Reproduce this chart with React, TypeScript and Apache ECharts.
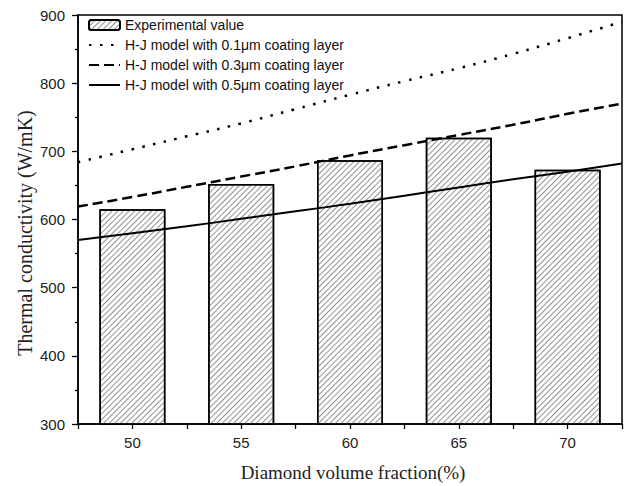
import React, { useEffect, useRef } from "react";
import * as echarts from "echarts";

const barX = [50, 55, 60, 65, 70];
const barValues = [615, 652, 687, 720, 673];

const modelX = [47.5, 50, 52.5, 55, 57.5, 60, 62.5, 65, 67.5, 70, 72.5];
const model01 = [684, 703, 722, 741, 762, 783, 803, 822, 843, 866, 890];
const model03 = [619, 633, 648, 663, 678, 694, 709, 724, 739, 755, 770];
const model05 = [570, 580, 590, 601, 612, 623, 635, 647, 659, 670, 682];

const seriesNames = [
  "Experimental value",
  "H-J model with 0.1μm coating layer",
  "H-J model with 0.3μm coating layer",
  "H-J model with 0.5μm coating layer",
];

const xTitle = "Diamond volume fraction(%)";
const yTitle = "Thermal conductivity (W/mK)";

const SANS = "Liberation Sans, Arial, sans-serif";
const SERIF = "Liberation Serif, Times New Roman, serif";

export default function App() {
  const ref = useRef<HTMLDivElement>(null);
  useEffect(() => {
    if (!ref.current) return;
    const chart = echarts.init(ref.current, null, { renderer: "svg" });
    const pair = (xs: number[], ys: number[]) => xs.map((x, i) => [x, ys[i]]);
    chart.setOption({
      animation: false,
      backgroundColor: "#ffffff",
      grid: {
        left: 78,
        top: 15,
        right: -3,
        bottom: 62,
        show: true,
        borderColor: "#000",
        borderWidth: 1.5,
        backgroundColor: "transparent",
      },
      legend: {
        orient: "vertical",
        left: 88,
        top: 18,
        padding: 0,
        itemWidth: 31,
        itemHeight: 10,
        itemGap: 6,
        textStyle: { fontFamily: SANS, fontSize: 14, color: "#111", lineHeight: 14 },
        data: [
          { name: seriesNames[0] },
          { name: seriesNames[1], itemStyle: { opacity: 0 } },
          { name: seriesNames[2], itemStyle: { opacity: 0 } },
          { name: seriesNames[3], itemStyle: { opacity: 0 } },
        ],
      },
      xAxis: {
        type: "value",
        min: 47.5,
        max: 72.5,
        interval: 2.5,
        splitLine: { show: false },
        axisLine: { show: true, lineStyle: { color: "#000", width: 1.5 } },
        axisTick: { show: true, inside: false, length: 5, lineStyle: { color: "#000", width: 1.3 } },
        axisLabel: {
          margin: 11,
          fontFamily: SANS,
          fontSize: 15,
          color: "#222",
          formatter: (v: number) => (v % 5 === 0 ? String(v) : ""),
        },
      },
      yAxis: {
        type: "value",
        min: 300,
        max: 900,
        interval: 100,
        splitLine: { show: false },
        axisLine: { show: true, lineStyle: { color: "#000", width: 1.5 } },
        axisTick: { show: true, inside: false, length: 6, lineStyle: { color: "#000", width: 1.3 } },
        minorTick: { show: true, splitNumber: 2, length: 3, lineStyle: { color: "#000", width: 1.3 } },
        axisLabel: { margin: 13, fontFamily: SANS, fontSize: 15, color: "#222" },
      },
      graphic: [
        {
          type: "text",
          x: 25,
          y: 233,
          rotation: Math.PI / 2,
          style: {
            text: yTitle,
            fontFamily: SERIF,
            fontSize: 20,
            fill: "#222",
            textAlign: "center",
            textVerticalAlign: "middle",
          },
        },
        {
          type: "text",
          x: 353,
          y: 472,
          style: {
            text: xTitle,
            fontFamily: SERIF,
            fontSize: 19,
            fill: "#222",
            textAlign: "center",
            textVerticalAlign: "middle",
          },
        },
      ],
      series: [
        {
          name: seriesNames[0],
          type: "bar",
          barWidth: 66,
          data: pair(barX, barValues),
          itemStyle: {
            color: "#ffffff",
            borderColor: "#000",
            borderWidth: 1.5,
            decal: {
              symbol: "rect",
              symbolSize: 1,
              color: "#909090",
              backgroundColor: "#ffffff",
              dashArrayX: [[1, 0]],
              dashArrayY: [1, 2.3],
              rotation: -Math.PI / 4,
            },
          },
        },
        {
          name: seriesNames[1],
          type: "line",
          smooth: true,
          symbol: "none",
          data: pair(modelX, model01),
          lineStyle: { color: "#000", width: 2.5, type: [2.5, 8.5] },
        },
        {
          name: seriesNames[2],
          type: "line",
          smooth: true,
          symbol: "none",
          data: pair(modelX, model03),
          lineStyle: { color: "#000", width: 2.5, type: [10, 5] },
        },
        {
          name: seriesNames[3],
          type: "line",
          smooth: true,
          symbol: "none",
          data: pair(modelX, model05),
          lineStyle: { color: "#000", width: 2 },
        },
      ],
    });
    return () => chart.dispose();
  }, []);
  return (
    <div
      ref={ref}
      style={{ position: "fixed", left: 0, top: 0, width: 625, height: 486, background: "#fff" }}
    />
  );
}
